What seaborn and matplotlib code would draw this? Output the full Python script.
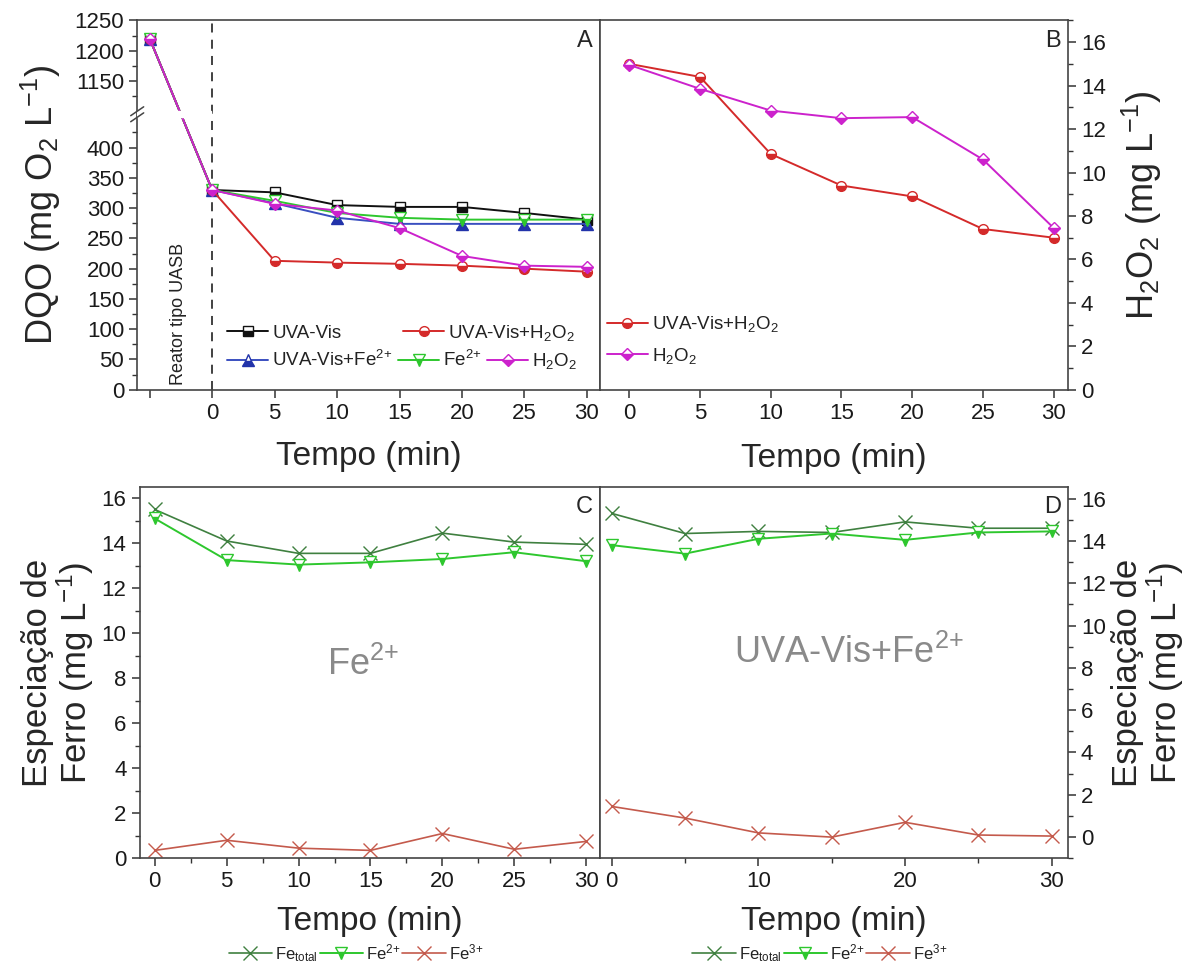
import numpy as np
import matplotlib
matplotlib.use("Agg")
import matplotlib.pyplot as plt
import matplotlib.ticker as mticker
import seaborn as sns

# ---------------- data ----------------
t_A = [-5, 0, 5, 10, 15, 20, 25, 30]
dqo_uvavis = [1220, 330, 326, 305, 302, 302, 292, 281]
dqo_uvavis_h2o2 = [1220, 330, 213, 210, 208, 205, 200, 195]
dqo_uvavis_fe = [1220, 330, 308, 284, 274, 274, 274, 274]
dqo_fe = [1220, 330, 312, 292, 284, 281, 281, 281]
dqo_h2o2 = [1220, 330, 307, 296, 267, 221, 205, 203]

t = [0, 5, 10, 15, 20, 25, 30]
b_uvavis_h2o2 = [15.0, 14.4, 10.85, 9.4, 8.9, 7.4, 7.0]
b_h2o2 = [14.95, 13.85, 12.85, 12.5, 12.55, 10.6, 7.45]

c_fetotal = [15.5, 14.1, 13.55, 13.55, 14.45, 14.05, 13.95]
c_fe2 = [15.1, 13.25, 13.05, 13.15, 13.3, 13.6, 13.2]
c_fe3 = [0.35, 0.8, 0.45, 0.35, 1.1, 0.4, 0.75]

d_fetotal = [15.3, 14.35, 14.45, 14.4, 14.9, 14.6, 14.6]
d_fe2 = [13.8, 13.4, 14.1, 14.35, 14.05, 14.4, 14.45]
d_fe3 = [1.45, 0.9, 0.2, 0.0, 0.7, 0.1, 0.05]

FE2 = "Fe$^{2{+}}$"
FE3 = "Fe$^{3{+}}$"
H2O2 = "H$_2$O$_2$"
A_labels = ["UVA-Vis", "UVA-Vis+" + FE2, "UVA-Vis+" + H2O2, FE2, H2O2]
fe_labels = ["Fe$_{\\mathrm{total}}$", FE2, FE3]
LINV = "$\\mathrm{L}^{{-}1}$"

# ---------------- style ----------------
sns.set_theme(style="ticks")
plt.rcParams["font.family"] = ["Liberation Sans", "DejaVu Sans"]
plt.rcParams["mathtext.fontset"] = "custom"
plt.rcParams["mathtext.rm"] = "Liberation Sans"
plt.rcParams["mathtext.it"] = "Liberation Sans"
plt.rcParams["mathtext.bf"] = "Liberation Sans:bold"
plt.rcParams["axes.edgecolor"] = "#444444"
plt.rcParams["axes.linewidth"] = 1.2

TICK_FS = 16
LAB_FS = 26
XLAB_FS = 24

C_BLACK = "#111111"
C_RED = "#d42a2a"
C_BLUE = "#2233aa"
C_GREEN = "#2ec72e"
C_MAG = "#cc22cc"
C_DKGREEN = "#3f8040"
C_FE3 = "#c45a4c"

fig = plt.figure(figsize=(11.93, 9.72), dpi=100)
axA = fig.add_axes([0.115, 0.599, 0.388, 0.380])
axB = fig.add_axes([0.503, 0.599, 0.392, 0.380])
axC = fig.add_axes([0.117, 0.117, 0.386, 0.382])
axD = fig.add_axes([0.503, 0.117, 0.392, 0.382])


def style_ticks(ax, right=False):
    ax.tick_params(axis="both", which="major", direction="out", length=6, width=1.1,
                   labelsize=TICK_FS, colors="#333333", labelcolor="#1a1a1a")
    ax.tick_params(axis="both", which="minor", direction="out", length=3.5, width=1.0,
                   colors="#333333")
    if right:
        ax.yaxis.tick_right()
        ax.yaxis.set_label_position("right")
        ax.tick_params(axis="y", which="both", left=False, right=True)
    for s in ax.spines.values():
        s.set_visible(True)


def series(ax, x, y, color, marker, ms=7, label=None, half=True, mew=1.0, lw=1.4,
           lcolor=None, alpha=1.0):
    kw = dict(marker=marker, markersize=ms, markeredgecolor=color, markeredgewidth=mew,
              linewidth=lw, color=lcolor or color, alpha=alpha)
    if half:
        kw.update(fillstyle="bottom", markerfacecolor=color, markerfacecoloralt="white")
    sns.lineplot(x=x, y=y, ax=ax, legend=False, **kw)
    ln = ax.get_lines()[-1]
    if label:
        ln.set_label(label)
    return ln


# ---------------- Panel A (broken axis) ----------------
LO, HI, G = 450.0, 1100.0, 10.0


def fwd(y):
    y = np.asarray(y, dtype=float)
    return np.where(y <= LO, y, np.where(y >= HI, y - HI + LO + G, LO + (y - LO) * G / (HI - LO)))


def inv(u):
    u = np.asarray(u, dtype=float)
    return np.where(u <= LO, u, np.where(u >= LO + G, u - LO - G + HI, LO + (u - LO) * (HI - LO) / G))


hA = []
hA.append(series(axA, t_A, dqo_uvavis, C_BLACK, "s", label=A_labels[0]))
hA.append(series(axA, t_A, dqo_uvavis_fe, C_BLUE, "^", ms=8, label=A_labels[1], lcolor="#3a4fc0"))
hA.append(series(axA, t_A, dqo_uvavis_h2o2, C_RED, "o", label=A_labels[2]))
hA.append(series(axA, t_A, dqo_fe, C_GREEN, "v", ms=8, label=A_labels[3]))
hA.append(series(axA, t_A, dqo_h2o2, C_MAG, "D", ms=6.5, label=A_labels[4]))

axA.set_yscale("function", functions=(fwd, inv))
axA.set_ylim(0, 1250)
axA.set_xlim(-6, 31.05)
axA.set_yticks(list(range(0, 401, 50)) + [1150, 1200, 1250])
axA.yaxis.set_minor_locator(mticker.FixedLocator(list(range(25, 426, 50)) + [1125, 1175, 1225]))
axA.yaxis.set_major_formatter(mticker.FuncFormatter(lambda v, p: f"{int(round(v))}"))
axA.set_xticks(t_A)
axA.set_xticklabels([""] + [str(v) for v in t_A[1:]])
style_ticks(axA)
axA.axvline(0, color="#333333", lw=1.3, ls=(0, (5, 4)), zorder=1)
# axis break
axA.axhspan(LO, HI, xmin=0, xmax=0.16, color="white", zorder=3)
fA = fwd(1250.0)
for yb in (LO, HI):
    yf = float(fwd(yb)) / float(fA)
    axA.plot([-0.014, 0.014], [yf - 0.012, yf + 0.012], transform=axA.transAxes,
             color="#444444", lw=1.1, clip_on=False, zorder=4)
axA.text(-2.7, 8, "Reator tipo UASB", rotation=90, ha="center", va="bottom",
         fontsize=13, color="#222222")
axA.text(0.985, 0.975, "A", transform=axA.transAxes, ha="right", va="top", fontsize=17)
axA.set_ylabel("DQO (mg O$_2$ " + LINV + ")", fontsize=LAB_FS, labelpad=8)
axA.set_xlabel("Tempo (min)", fontsize=XLAB_FS, labelpad=12)

legkw = dict(frameon=False, fontsize=13.5, handlelength=2.2, handletextpad=0.2,
             borderpad=0.1, borderaxespad=0.0, labelcolor="#222222")
leg1 = axA.legend(handles=[hA[0], hA[2]], loc="lower left", bbox_to_anchor=(0.19, 0.122),
                  ncol=2, columnspacing=3.3, **legkw)
axA.add_artist(leg1)
axA.legend(handles=[hA[1], hA[3], hA[4]], loc="lower left", bbox_to_anchor=(0.19, 0.045),
           ncol=3, columnspacing=0.3, **legkw)

# ---------------- Panel B ----------------
hB = []
hB.append(series(axB, t, b_uvavis_h2o2, C_RED, "o", label="UVA-Vis+" + H2O2))
hB.append(series(axB, t, b_h2o2, C_MAG, "D", ms=6.5, label=H2O2))
axB.set_xlim(-2.07, 31.0)
axB.set_ylim(0, 17)
axB.set_xticks(t)
axB.set_yticks(range(0, 17, 2))
axB.yaxis.set_minor_locator(mticker.MultipleLocator(1))
style_ticks(axB, right=True)
axB.text(0.985, 0.975, "B", transform=axB.transAxes, ha="right", va="top", fontsize=17)
axB.set_ylabel("H$_2$O$_2$ (mg " + LINV + ")", fontsize=LAB_FS, labelpad=10)
axB.set_xlabel("Tempo (min)", fontsize=XLAB_FS, labelpad=14)
axB.legend(handles=hB, loc="lower left", bbox_to_anchor=(0.01, 0.06), ncol=1,
           labelspacing=0.6, **legkw)


# ---------------- Panels C and D ----------------
def fe_panel(ax, tot, fe2, fe3, letter, note, xlim, ylim, xticks, xminor, right):
    h = []
    h.append(series(ax, t, tot, C_DKGREEN, "x", ms=10, half=False, mew=1.0, lw=1.2,
                    label=fe_labels[0]))
    h.append(series(ax, t, fe2, C_GREEN, "v", ms=8, lw=1.4, label=fe_labels[1]))
    h.append(series(ax, t, fe3, C_FE3, "x", ms=10, half=False, mew=1.0, lw=1.2,
                    label=fe_labels[2]))
    ax.set_xlim(*xlim)
    ax.set_ylim(*ylim)
    ax.set_xticks(xticks)
    ax.xaxis.set_minor_locator(mticker.MultipleLocator(xminor))
    ax.set_yticks(range(0, 17, 2))
    ax.yaxis.set_minor_locator(mticker.MultipleLocator(1))
    style_ticks(ax, right=right)
    ax.text(0.985, 0.975, letter, transform=ax.transAxes, ha="right", va="top", fontsize=17)
    ax.text(note[0], note[1], note[2], ha="center", va="center", fontsize=26, color="#8a8a8a")
    ax.set_ylabel("Especiação de\nFerro (mg " + LINV + ")", fontsize=25, labelpad=4,
                  linespacing=1.0)
    ax.set_xlabel("Tempo (min)", fontsize=XLAB_FS, labelpad=10)
    ax.legend(handles=h, loc="center", bbox_to_anchor=(0.47, -0.255), ncol=3,
              frameon=False, fontsize=12, handlelength=2.6, handletextpad=0.2,
              columnspacing=0.1, labelcolor="#222222")


fe_panel(axC, c_fetotal, c_fe2, c_fe3, "C", (14.5, 8.6, FE2),
         (-1.05, 30.96), (0, 16.5), t, 2.5, False)
fe_panel(axD, d_fetotal, d_fe2, d_fe3, "D", (16.2, 8.7, "UVA-Vis+" + FE2),
         (-0.8, 31.1), (-1.0, 16.55), [0, 10, 20, 30], 5, True)

fig.savefig("out.png", dpi=100, facecolor="white")
